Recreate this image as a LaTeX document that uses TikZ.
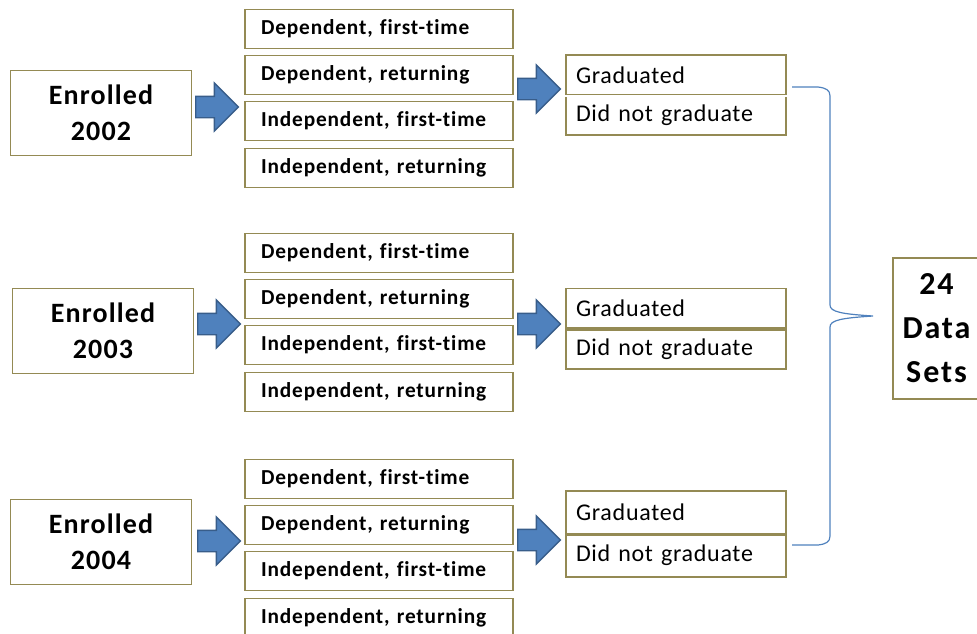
\documentclass[tikz,border=0pt]{standalone}
\usepackage{fontspec}
\setmainfont{Carlito}
\newfontfamily\gradfont[LetterSpace=3,WordSpace=0.5]{Carlito}
\usepackage{tikz}
\usetikzlibrary{shapes.arrows, positioning}
\definecolor{olivedark}{HTML}{948A54}
\definecolor{arrowblue}{HTML}{4F81BD}
\definecolor{arrowedge}{HTML}{385D8A}
\tikzset{
  box/.style={draw=olivedark, line width=1.1pt, fill=white, align=center,
              inner sep=0pt},
  enrolbox/.style={box, minimum width=136pt, minimum height=64pt,
              font=\fontsize{21}{27}\selectfont\bfseries\addfontfeatures{LetterSpace=4}},
  subbox/.style={box, minimum width=201pt, minimum height=29.5pt,
              text width=177pt, align=left,
              font=\fontsize{16}{18}\selectfont\bfseries
                   \addfontfeatures{LetterSpace=4,Ligatures=NoCommon}},
  gradbox/.style={box, minimum width=165pt, minimum height=30pt,
              text width=150pt, align=left, font=\fontsize{18}{20}\selectfont\gradfont},
  databox/.style={box, minimum width=65pt, minimum height=106pt,
              font=\fontsize{24}{33}\selectfont\bfseries\addfontfeatures{LetterSpace=6}},
  bigarrow/.style={single arrow, draw=arrowedge, fill=arrowblue,
              line width=1pt, minimum height=32pt, minimum width=35pt,
              single arrow head extend=10pt, single arrow tip angle=90,
              inner xsep=0pt, inner ysep=7.5pt, anchor=tail},
  divider/.style={draw=olivedark},
  brace/.style={draw=arrowblue, line width=0.9pt},
}

\begin{document}
\begin{tikzpicture}[x=0.75pt, y=-0.75pt]
  \useasboundingbox (0,0) rectangle (977,633);
  % enrolment years
  \node[enrolbox] (enr02) at (101,113) {Enrolled\\2002};
  \node[enrolbox] (enr03) at (103,331) {Enrolled\\2003};
  \node[enrolbox] (enr04) at (101,542) {Enrolled\\2004};
  % student types, one column per year
  \foreach \yr/\dy in {02/0, 03/224, 04/450} {
    \node[subbox] (dfirst\yr) at (379,29+\dy)  {Dependent, first-time};
    \node[subbox] (dret\yr)   at (379,75+\dy)  {Dependent, returning};
    \node[subbox] (ifirst\yr) at (379,121+\dy) {Independent, first-time};
    \node[subbox] (iret\yr)   at (379,168+\dy) {Independent, returning};
  }
  % outcomes
  \node[gradbox] (grad02) at (676,75) {Graduated};
  \node[gradbox] (nograd02) at (676,115) {Did not graduate};
  \node[gradbox] (grad03) at (676,308.5) {Graduated};
  \node[gradbox] (nograd03) at (676,349) {Did not graduate};
  \node[gradbox, minimum height=32pt] (grad04) at (676,512.5) {Graduated};
  \node[gradbox, minimum height=32pt] (nograd04) at (676,555.5) {Did not graduate};
  \draw[divider, double, double distance=1.2pt, line width=0.7pt]
    (grad02.south west) -- (grad02.south east);
  \draw[divider, line width=3pt] (grad03.south west) -- (grad03.south east);
  \draw[divider, line width=2.2pt] (grad04.south west) -- (grad04.south east);
  % block arrows
  \node[bigarrow] (arr02) at (195,107) {};
  \node[bigarrow] (arr03) at (197,324) {};
  \node[bigarrow] (arr04) at (197,541) {};
  \node[bigarrow] (out02) at (517,89) {};
  \node[bigarrow] (out03) at (517,324) {};
  \node[bigarrow] (out04) at (517,540) {};
  % total
  \node[databox] (data) at (936.5,328.5) {24\\Data\\Sets};
  \coordinate (bracetop) at (792,87);
  \coordinate (bracebot) at (792,545);
  \coordinate (bracetip) at (873,316);
  \draw[brace] (bracetop) -- (818,87) .. controls (826,88) and (830,90) .. (830,96)
    -- (830,305) .. controls (830,312) and (842,314) .. (bracetip)
    .. controls (842,318) and (830,320) .. (830,327)
    -- (830,536) .. controls (830,542) and (826,544) .. (818,545) -- (bracebot);
\end{tikzpicture}
\end{document}
